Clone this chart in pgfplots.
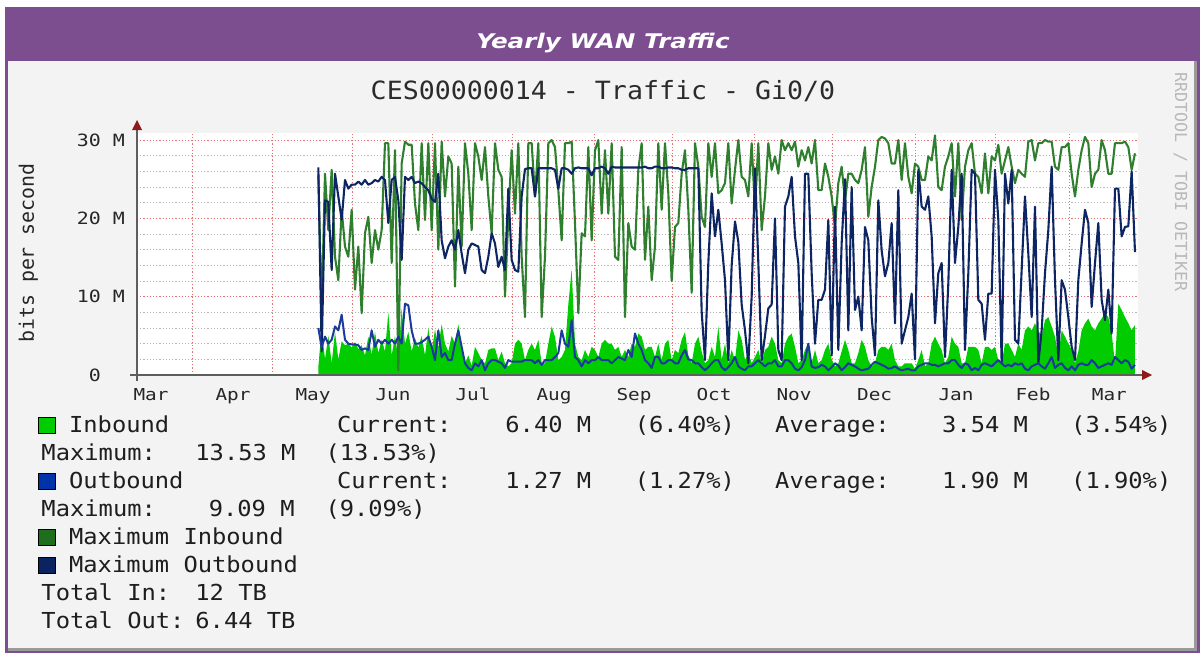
\documentclass[border=0pt]{standalone}
\usepackage{fontspec}
\setmainfont{DejaVu Sans Mono}
\newfontfamily\tickfont[FakeStretch=1.18]{DejaVu Sans Mono}
\newfontfamily\legfont[FakeStretch=1.08]{DejaVu Sans Mono}
\newfontfamily\ttlfont[FakeStretch=1.06]{DejaVu Sans Mono}
\newfontfamily\monofont{DejaVu Sans Mono}
\newfontfamily\barfont[FakeStretch=1.22]{DejaVu Sans}
\usepackage{pgfplots}
\pgfplotsset{compat=1.18}
\usepackage{pgfplotstable}
\usetikzlibrary{arrows.meta}

\definecolor{barpurple}{HTML}{7C4D8F}
\definecolor{panelbg}{HTML}{F3F3F3}
\definecolor{paneledge}{HTML}{9A9A9A}
\definecolor{titletext}{HTML}{2B2B2B}
\definecolor{ticktext}{HTML}{262626}
\definecolor{legtext}{HTML}{1E1E1E}
\definecolor{creditgrey}{HTML}{B8B8B8}
\definecolor{gridred}{HTML}{E87070}
\definecolor{gridgrey}{HTML}{B5B5B5}
\definecolor{axisgrey}{HTML}{5E5E5E}
\definecolor{arrowred}{HTML}{8E1B1B}
\definecolor{ingreen}{HTML}{00CC00}
\definecolor{maxingreen}{HTML}{2F7F2F}
\definecolor{outblue}{HTML}{1B3A9C}
\definecolor{maxoutblue}{HTML}{0D2563}
\definecolor{swout}{HTML}{0033AA}
\definecolor{swmaxin}{HTML}{1D6F1D}
\definecolor{swmaxout}{HTML}{0B2461}

% t = sample index (one sample ~ 1.27 days), values in Mbit/s
\pgfplotstableread{
t in out maxin maxout
0 1.0 6.0 25.5 26.5
1 6.0 3.5 7.9 3.0
2 2.0 4.9 25.7 22.3
3 5.0 4.0 18.5 22.1
4 1.5 4.5 26.2 13.4
5 5.5 6.2 15.1 25.7
6 2.0 5.7 12.1 22.8
7 4.3 7.7 21.1 19.8
8 3.8 4.5 16.4 24.9
9 4.0 4.0 15.1 23.8
10 3.5 3.9 21.1 24.3
11 4.2 3.9 10.9 24.3
12 3.3 3.8 16.4 24.7
13 3.8 3.2 7.9 24.3
14 2.5 3.4 18.1 24.9
15 4.9 3.2 20.2 24.3
16 2.6 5.7 14.3 24.5
17 5.5 3.6 18.5 24.9
18 2.8 4.5 16.0 24.7
19 4.5 4.0 18.5 25.3
20 3.0 4.5 29.6 24.9
21 8.0 4.0 29.6 19.4
22 2.5 4.5 14.3 24.9
23 5.0 4.0 28.7 25.3
24 2.0 4.9 0.6 22.3
25 8.5 4.0 27.0 14.7
26 4.0 9.1 29.8 25.3
27 5.5 8.9 29.4 24.9
28 3.0 5.7 29.4 25.3
29 4.7 4.0 21.9 24.5
30 3.5 4.0 18.5 24.7
31 5.0 4.2 29.6 24.5
32 2.5 4.5 19.8 24.0
33 6.0 4.9 29.6 23.6
34 3.0 3.6 18.5 22.5
35 5.8 1.9 29.6 22.1
36 3.5 5.7 16.0 25.7
37 6.5 2.3 29.8 17.2
38 4.0 2.8 22.8 14.9
39 3.0 1.9 27.9 16.4
40 5.0 1.9 27.0 17.2
41 4.0 4.0 11.3 16.0
42 6.5 5.7 26.6 18.5
43 3.5 3.6 16.4 15.5
44 1.5 1.5 29.6 13.0
45 2.5 0.9 25.7 16.0
46 1.2 0.6 18.5 16.8
47 3.6 1.5 29.6 16.6
48 2.8 1.1 27.9 16.4
49 1.9 1.9 24.9 13.4
50 1.5 0.6 29.1 13.0
51 3.2 1.5 22.8 15.1
52 3.4 1.9 18.1 18.1
53 3.4 1.9 29.6 16.8
54 1.9 1.7 26.2 13.8
55 3.0 1.5 25.3 15.1
56 1.5 0.9 10.0 13.4
57 1.1 1.9 20.2 23.8
58 1.5 1.7 28.7 14.7
59 4.0 1.7 20.6 13.4
60 4.5 1.7 29.6 13.2
61 4.0 1.7 15.1 22.8
62 1.9 1.9 7.4 26.3
63 3.2 1.9 29.6 26.4
64 4.0 1.9 29.6 26.4
65 3.2 1.5 22.8 22.8
66 4.5 1.9 29.6 26.4
67 1.5 1.3 7.4 26.4
68 1.5 1.9 15.1 26.4
69 4.0 1.9 29.6 26.4
70 6.2 1.9 30.0 26.4
71 4.9 2.3 29.1 26.2
72 1.9 2.8 23.6 23.8
73 2.3 5.7 17.2 26.4
74 3.2 4.0 29.6 26.4
75 9.0 3.6 29.6 26.2
76 13.5 7.0 29.8 25.7
77 4.0 2.3 19.4 26.4
78 2.3 1.9 7.9 26.5
79 1.9 1.1 18.1 26.4
80 3.2 1.9 17.7 26.4
81 2.3 1.5 29.1 26.4
82 3.6 1.9 17.2 25.5
83 3.2 1.9 28.7 26.4
84 2.3 2.3 30.0 26.4
85 4.0 1.9 20.6 26.6
86 4.5 1.9 28.7 26.4
87 4.0 1.9 20.6 25.7
88 4.0 1.5 29.6 26.6
89 3.2 1.9 15.1 26.5
90 3.6 2.3 14.7 26.5
91 2.3 2.1 29.1 26.5
92 3.2 1.9 7.4 26.5
93 2.3 3.2 19.4 26.5
94 4.0 2.3 16.4 26.5
95 3.6 5.3 16.0 26.5
96 5.3 4.0 26.2 26.5
97 4.9 3.2 29.6 26.5
98 3.2 1.9 14.7 26.6
99 3.6 1.5 21.5 26.4
100 3.6 0.9 12.1 26.4
101 2.3 2.3 16.4 26.6
102 4.0 2.3 29.6 26.6
103 1.9 1.5 21.1 26.4
104 4.0 1.5 29.6 26.4
105 4.5 1.9 23.2 26.5
106 1.9 1.9 12.0 26.5
107 3.2 1.5 18.9 26.4
108 2.8 1.5 19.4 26.4
109 4.5 2.5 25.7 26.2
110 5.5 3.2 28.7 26.2
111 2.5 2.0 21.1 26.4
112 1.5 1.9 10.5 26.4
113 4.0 1.5 29.6 26.4
114 4.9 1.5 26.6 26.4
115 3.0 1.0 20.2 8.1
116 1.5 0.6 18.9 1.9
117 1.9 1.0 29.6 14.3
118 3.6 1.5 25.3 23.2
119 2.3 1.9 29.6 17.7
120 6.2 1.9 23.2 21.1
121 1.9 1.0 23.6 16.8
122 4.0 0.6 24.5 12.1
123 1.5 1.0 29.6 1.9
124 3.2 1.5 21.9 14.0
125 1.9 2.3 26.2 19.6
126 5.7 1.1 30.0 17.0
127 4.5 0.8 25.3 9.0
128 1.9 0.6 24.9 5.7
129 2.8 1.1 22.8 1.5
130 1.5 1.1 29.6 10.0
131 2.3 1.5 21.1 26.4
132 3.2 1.9 29.6 14.3
133 1.5 1.5 18.5 1.9
134 3.2 1.1 22.8 5.0
135 3.6 1.5 29.6 8.5
136 4.9 1.5 26.2 9.0
137 4.0 1.9 27.9 20.0
138 1.9 1.1 25.7 3.2
139 1.5 1.1 30.0 1.9
140 4.0 1.9 28.7 21.5
141 4.9 1.9 29.6 22.8
142 5.3 1.5 28.7 25.3
143 3.6 0.8 29.8 17.7
144 1.5 0.6 26.6 14.3
145 1.9 1.0 28.7 1.9
146 3.2 1.9 27.4 25.7
147 4.0 4.0 29.1 25.7
148 1.5 1.1 27.0 13.0
149 3.2 0.9 30.0 4.0
150 1.5 1.0 23.6 9.6
151 1.9 1.3 23.6 9.6
152 3.2 1.1 27.0 10.9
153 4.0 0.6 25.3 19.8
154 2.0 1.0 22.8 2.5
155 1.1 1.5 18.9 21.5
156 1.5 1.2 24.5 3.2
157 3.0 0.6 26.6 16.8
158 4.5 1.0 22.3 25.0
159 3.2 1.5 25.7 5.7
160 1.5 1.3 25.7 24.0
161 1.5 1.1 24.9 8.3
162 2.8 0.8 24.5 10.0
163 4.5 0.6 26.2 5.7
164 3.6 0.7 29.1 18.9
165 1.9 0.8 20.2 17.2
166 1.1 1.3 24.0 7.4
167 1.5 1.7 26.6 2.5
168 3.2 1.5 30.0 22.3
169 3.6 1.3 30.4 15.9
170 3.6 1.1 30.2 12.6
171 3.2 0.8 29.6 14.3
172 4.0 0.9 27.0 19.4
173 1.9 1.1 27.0 6.6
174 1.1 0.8 30.0 23.6
175 1.1 0.6 24.9 4.0
176 1.5 0.7 29.6 5.7
177 1.5 0.8 25.3 7.4
178 1.5 0.6 23.2 10.4
179 0.8 0.6 27.0 2.0
180 1.9 1.1 26.6 26.2
181 3.2 1.3 24.9 21.5
182 1.1 1.5 24.9 21.1
183 1.5 1.5 27.9 22.8
184 4.0 1.3 27.4 17.7
185 4.9 1.3 30.6 6.6
186 4.0 1.1 24.0 13.0
187 3.2 1.3 23.6 14.3
188 1.5 1.5 26.6 2.3
189 2.3 1.5 27.9 11.7
190 4.9 1.9 29.6 26.2
191 4.0 1.9 22.8 14.3
192 3.6 1.3 29.6 18.9
193 1.5 0.9 19.8 25.7
194 1.5 1.5 26.6 3.2
195 3.6 1.3 28.7 13.0
196 3.6 0.6 29.6 26.2
197 3.6 0.9 25.7 25.7
198 3.2 0.6 25.3 9.6
199 1.5 1.3 23.2 9.1
200 3.6 1.5 28.3 4.5
201 3.6 1.3 23.2 10.4
202 3.2 1.1 27.9 10.4
203 3.6 1.5 27.4 26.2
204 1.9 1.9 29.4 19.8
205 1.5 1.5 25.7 1.5
206 4.0 1.1 27.4 25.7
207 4.0 1.3 29.1 21.9
208 3.2 1.1 26.6 26.2
209 2.3 1.5 24.5 4.5
210 4.0 1.3 26.2 4.0
211 3.2 1.5 25.7 13.4
212 5.7 0.8 25.3 22.8
213 6.2 0.6 29.8 15.5
214 5.7 1.1 30.0 7.4
215 6.6 1.3 27.4 21.5
216 5.7 1.5 29.6 1.5
217 4.9 1.1 29.6 5.7
218 7.0 0.8 30.0 13.0
219 7.4 1.5 29.8 18.5
220 6.2 2.3 29.8 26.6
221 4.9 0.9 26.6 12.1
222 2.3 1.3 26.2 1.9
223 5.7 1.5 29.1 12.1
224 4.9 0.9 29.1 10.9
225 4.0 0.6 29.6 7.4
226 3.2 1.1 25.7 3.6
227 1.5 0.6 22.8 1.9
228 3.0 1.3 26.2 12.1
229 5.7 1.5 28.7 16.8
230 6.6 1.3 30.4 21.1
231 7.2 1.3 29.6 19.4
232 6.2 1.9 24.0 8.7
233 5.7 1.5 25.7 14.3
234 6.6 0.9 26.2 19.4
235 7.2 1.1 30.0 9.6
236 7.9 1.3 28.7 7.0
237 7.4 1.5 25.7 10.9
238 5.3 1.3 25.7 5.3
239 1.5 2.3 29.6 23.8
240 9.1 1.9 29.6 23.8
241 8.3 1.5 29.6 17.7
242 7.4 1.9 29.8 18.9
243 6.6 1.7 29.1 19.0
244 5.7 0.8 26.2 26.0
245 6.4 1.3 28.3 15.7
}\traffic

\newcommand\lt[3]{\node[anchor=base west,inner sep=0pt,text=legtext] at (#1,#2) {\legfont\fontsize{22}{26}\selectfont #3};}
\newcommand\sw[2]{\filldraw[fill=#2,draw=black,line width=1pt] (38.5,#1-15.5) rectangle (55,#1+0.5);}

\begin{document}
\begin{tikzpicture}[x=1pt,y=1pt]
\path[use as bounding box] (0,0) rectangle (1203,-653);
\begin{scope}[y=-1pt]
\fill[white] (0,0) rectangle (1203,653);
\fill[barpurple] (5,7) rectangle (1200,653);
\fill[paneledge] (8,61) rectangle (1197,651);
\fill[panelbg] (8,61) rectangle (1194,648);

\node[anchor=base,inner sep=0pt,text=white] at (603,48)
  {\barfont\bfseries\itshape\fontsize{20.2}{22}\selectfont Yearly WAN Traffic};
\node[anchor=base,inner sep=0pt,text=titletext] at (603,99)
  {\ttlfont\fontsize{25.1}{28}\selectfont CES00000014 - Traffic - Gi0/0};
\node[rotate=-90,inner sep=0pt,text=creditgrey] at (1180.5,182)
  {\monofont\fontsize{16.6}{18}\selectfont RRDTOOL / TOBI OETIKER};
\node[rotate=90,inner sep=0pt,text=ticktext] at (28.5,253)
  {\monofont\fontsize{19.9}{22}\selectfont bits per second};
\end{scope}

\begin{axis}[
  at={(137pt,-375pt)}, anchor=south west,
  scale only axis, width=1001pt, height=242pt,
  xmin=-54.4, xmax=245.9, ymin=0, ymax=30.9,
  axis background/.style={fill=white},
  axis line style={draw=none},
  tick style={draw=none},
  major tick length=0pt, minor tick length=0pt,
  xtick={-37.6,-13.6,10.4,34.4,58.4,83.0,106.4,131.0,154.4,179.3,203.3,225.5},
  xticklabels={},
  extra x ticks={-50.2,-25.6,-1.6,22.4,46.4,70.7,94.7,118.7,142.7,166.9,191.3,214.4,237.3},
  extra x tick labels={Mar,Apr,May,Jun,Jul,Aug,Sep,Oct,Nov,Dec,Jan,Feb,Mar},
  extra x tick style={grid=none, xticklabel style={anchor=base, inner sep=0pt, yshift=-25pt}},
  xticklabel style={font=\tickfont\fontsize{16.4}{18}\selectfont, text=ticktext},
  ytick={0,10,20,30},
  yticklabels={{0\hphantom{00}},10 M,20 M,30 M},
  minor ytick={2,4,6,8,12,14,16,18,22,24,26,28},
  yticklabel style={font=\tickfont\fontsize{16.9}{18}\selectfont, text=ticktext, anchor=east, inner sep=0pt, xshift=-12pt},
  xmajorgrids, ymajorgrids, yminorgrids,
  major grid style={draw=gridred, line width=1pt, dash pattern=on 1.2pt off 2pt},
  minor grid style={draw=gridgrey, line width=1pt, dash pattern=on 1.2pt off 2pt},
]
\addplot[draw=none, fill=ingreen] table[x=t,y=in]{\traffic} \closedcycle;
\addplot[maxingreen, line width=2.1pt, line join=round] table[x=t,y=maxin]{\traffic};
\addplot[maxoutblue, line width=2.1pt, line join=round] table[x=t,y=maxout]{\traffic};
\addplot[outblue, line width=2pt, line join=round] table[x=t,y=out]{\traffic};
\end{axis}

\begin{scope}[y=-1pt]
% axis lines with arrows
\draw[axisgrey, line width=1.3pt] (130,375) -- (1143,375);
\fill[arrowred] (1152,375) -- (1142,370) -- (1142,380) -- cycle;
\draw[axisgrey, line width=1.3pt] (137,381) -- (137,129);
\fill[arrowred] (137,120) -- (132,130) -- (142,130) -- cycle;

% legend
\sw{432.7}{ingreen}
\lt{68.9}{432.7}{Inbound}
\lt{336.8}{432.7}{Current:}
\lt{505.2}{432.7}{6.40 M}
\lt{634.6}{432.7}{(6.40\%)}
\lt{775}{432.7}{Average:}
\lt{942}{432.7}{3.54 M}
\lt{1071}{432.7}{(3.54\%)}
\lt{41.3}{460.7}{Maximum:}
\lt{195.2}{460.7}{13.53 M}
\lt{325.3}{460.7}{(13.53\%)}
\sw{488.7}{swout}
\lt{68.9}{488.7}{Outbound}
\lt{336.8}{488.7}{Current:}
\lt{505.2}{488.7}{1.27 M}
\lt{634.6}{488.7}{(1.27\%)}
\lt{775}{488.7}{Average:}
\lt{942}{488.7}{1.90 M}
\lt{1071}{488.7}{(1.90\%)}
\lt{41.3}{516.7}{Maximum:}
\lt{208.6}{516.7}{9.09 M}
\lt{325.3}{516.7}{(9.09\%)}
\sw{544.7}{swmaxin}
\lt{68.9}{544.7}{Maximum Inbound}
\sw{572.7}{swmaxout}
\lt{68.9}{572.7}{Maximum Outbound}
\lt{41.3}{600.7}{Total In:}
\lt{195.2}{600.7}{12 TB}
\lt{41.3}{628.7}{Total Out:}
\lt{195.2}{628.7}{6.44 TB}
\end{scope}
\end{tikzpicture}
\end{document}
